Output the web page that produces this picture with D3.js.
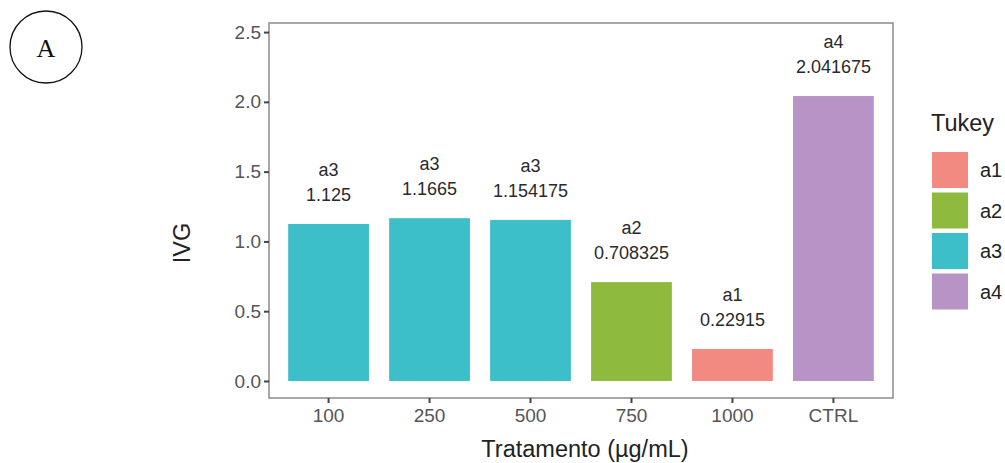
<!DOCTYPE html>
<html><head><meta charset="utf-8">
<script src="https://cdn.jsdelivr.net/npm/d3@7"></script>
<style>body{margin:0;background:#fff;} svg{display:block;font-family:"Liberation Sans",Arial,sans-serif;}</style>
</head><body>
<svg id="c" width="1005" height="463"></svg>
<script>
const categories = ["100","250","500","750","1000","CTRL"];
const values = [1.125, 1.1665, 1.154175, 0.708325, 0.22915, 2.041675];
const groups = ["a3","a3","a3","a2","a1","a4"];
const valueLabels = ["1.125","1.1665","1.154175","0.708325","0.22915","2.041675"];
const legendKeys = ["a1","a2","a3","a4"];
const legendColors = ["#F28A82","#8EBB3E","#3CBFC8","#B893C6"];
const yTicks = [0.0, 0.5, 1.0, 1.5, 2.0, 2.5];

const svg = d3.select("#c");
const L = 269, R = 893, T = 23, B = 398;
const x = d3.scaleBand().domain(categories).range([L, R]).paddingInner(0.2).paddingOuter(0.19);
const y = d3.scaleLinear().domain([-0.122, 2.565]).range([B, T]);
const color = d3.scaleOrdinal().domain(legendKeys).range(legendColors);

// panel
svg.append("rect").attr("x", L).attr("y", T).attr("width", R - L).attr("height", B - T)
  .attr("fill", "#fff").attr("stroke", "#8a8a8a").attr("stroke-width", 1.5);

// bars
svg.selectAll("rect.bar").data(values).join("rect").attr("class", "bar")
  .attr("x", (d, i) => x(categories[i]))
  .attr("width", x.bandwidth())
  .attr("y", d => y(d))
  .attr("height", d => y(0) - y(d))
  .attr("fill", (d, i) => color(groups[i]));

// labels
const lab = svg.append("g").attr("font-size", 18).attr("fill", "#2a2a2a").attr("text-anchor", "middle");
values.forEach((v, i) => {
  const cx = x(categories[i]) + x.bandwidth() / 2;
  lab.append("text").attr("x", cx).attr("y", y(v) - 54).attr("dy", "0.35em").text(groups[i]);
  lab.append("text").attr("x", cx).attr("y", y(v) - 29).attr("dy", "0.35em").text(valueLabels[i]);
});

// y axis
const yAxis = svg.append("g").attr("transform", `translate(${L},0)`)
  .call(d3.axisLeft(y).tickValues(yTicks).tickFormat(d3.format(".1f")).tickSize(5).tickPadding(3));
yAxis.select(".domain").remove();
yAxis.selectAll("line").attr("stroke", "#444").attr("stroke-width", 2);
yAxis.selectAll("text").attr("font-size", 19).attr("fill", "#555").attr("font-family", "Liberation Sans, Arial, sans-serif");

// x axis
const xAxis = svg.append("g").attr("transform", `translate(0,${B})`)
  .call(d3.axisBottom(x).tickSize(5).tickPadding(6));
xAxis.select(".domain").remove();
xAxis.selectAll("line").attr("stroke", "#444").attr("stroke-width", 2);
xAxis.selectAll("text").attr("font-size", 19).attr("fill", "#555").attr("font-family", "Liberation Sans, Arial, sans-serif");

// axis titles
svg.append("text").attr("x", 585).attr("y", 449).attr("dy", "0.35em").attr("text-anchor", "middle")
  .attr("font-size", 23.5).attr("fill", "#222").text("Tratamento (µg/mL)");
svg.append("text").attr("transform", "translate(182,243) rotate(-90)").attr("dy", "0.35em").attr("text-anchor", "middle")
  .attr("font-size", 23.5).attr("fill", "#222").text("IVG");

// legend
svg.append("text").attr("x", 931).attr("y", 123).attr("dy", "0.35em").attr("font-size", 23.5).attr("fill", "#222").text("Tukey");
const lg = svg.append("g");
legendKeys.forEach((k, i) => {
  const yy = 152 + i * 40.5;
  lg.append("rect").attr("x", 932).attr("y", yy).attr("width", 36).attr("height", 36).attr("fill", color(k));
  lg.append("text").attr("x", 980).attr("y", yy + 18).attr("dy", "0.35em").attr("font-size", 20).attr("fill", "#222").text(k);
});

// panel tag
svg.append("circle").attr("cx", 46).attr("cy", 47).attr("r", 36).attr("fill", "none").attr("stroke", "#111").attr("stroke-width", 1.3);
svg.append("text").attr("x", 46).attr("y", 48).attr("dy", "0.35em").attr("text-anchor", "middle")
  .attr("font-family", "Liberation Serif, Times New Roman, serif").attr("font-size", 26).attr("fill", "#111").text("A");
</script>
</body></html>
